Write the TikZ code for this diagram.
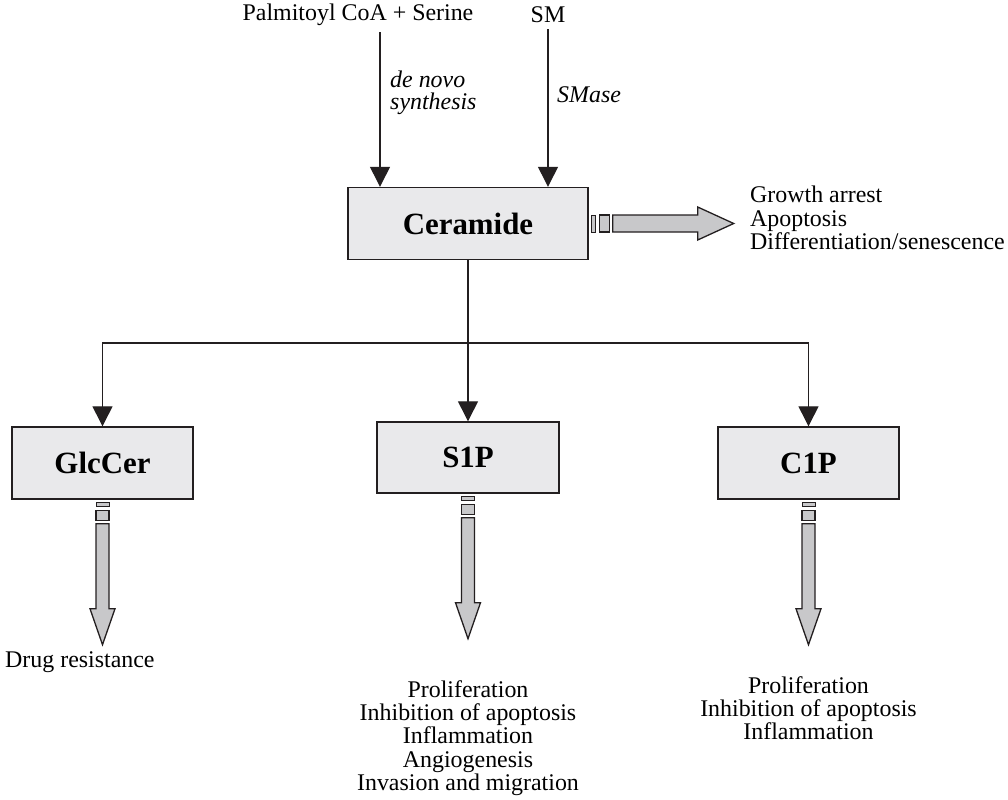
\documentclass[tikz,border=0pt]{standalone}
\usepackage{fontspec}
\setmainfont{Liberation Serif}
\usetikzlibrary{arrows.meta}

\definecolor{boxgray}{RGB}{233,233,235}
\definecolor{bargray}{RGB}{200,200,202}
\definecolor{ink}{RGB}{35,31,32}

\tikzset{
  lipid/.style={draw=ink,line width=1.4bp,fill=boxgray,minimum height=72bp,
    inner sep=0pt,font=\fontsize{31}{31}\selectfont\bfseries},
  conn/.style={draw=ink,line width=1.3bp,-{Triangle[width=20bp,length=20bp]}},
  effect/.style={align=center,inner sep=0pt,font=\fontsize{24}{23.5}\selectfont},
  enzyme/.style={anchor=west,align=left,inner sep=0pt,
    font=\fontsize{24}{22}\selectfont\itshape},
  fat/.style={draw=ink,line width=1.3bp,fill=bargray}
}

\begin{document}
\begin{tikzpicture}[x=1bp,y=-1bp]
  \useasboundingbox (0,0) rectangle (1008,800);
  % boxes
  \node[lipid,minimum width=240bp] (cer) at (468,223.5) {Ceramide};
  \node[lipid,minimum width=181bp] (glc) at (102.5,463) {GlcCer};
  \node[lipid,minimum width=182bp,minimum height=71bp] (s1p) at (468,457.5) {S1P};
  \node[lipid,minimum width=181bp] (c1p) at (808.5,463) {C1P};
  % sources
  \node[effect] (palm) at (358,15) {Palmitoyl CoA + Serine};
  \node[effect] (sm) at (548,15) {SM};
  \draw[conn] ([xshift=22bp,yshift=-6bp]palm.south) -- ([xshift=22bp]palm.south |- cer.north);
  \draw[conn] ([yshift=-6bp]sm.south) -- (sm.south |- cer.north);
  \node[enzyme] (dn) at (390,93) {de novo\\synthesis};
  \node[enzyme] (sma) at (557,95) {SMase};
  % branches
  \coordinate (split) at (cer.south |- 0,343);
  \draw[draw=ink,line width=1.3bp] (cer.south) -- (split);
  \draw[conn] (split) -| (glc.north);
  \draw[conn] (split) -- (s1p.north);
  \draw[conn] (split) -| (c1p.north);
  % block arrows
  \foreach \n/\a/\r/\bw/\hw in {cer/east/90/8.5/16.5, glc/south/0/6.5/12.5,
      s1p/south/0/6.5/12.5, c1p/south/0/6.5/12.5}{
    \begin{scope}[shift={(\n.\a)},rotate=\r]
      \draw[fat,line width=1bp] (-\bw,3) rectangle (\bw,7);
      \draw[fat] (-\bw,11) rectangle (\bw,21);
      \draw[fat] (-\bw,24) -- (-\bw,109) -- (-\hw,109) -- (0,145)
        -- (\hw,109) -- (\bw,109) -- (\bw,24) -- cycle;
    \end{scope}
  }
  % outcomes
  \node[effect,anchor=west,align=left] (stop) at (750,218)
    {Growth arrest\\Apoptosis\\Differentiation/senescence};
  \node[effect,anchor=west] (drug) at (5,662) {Drug resistance};
  \node[effect,anchor=north] (s1pout) at (468,680)
    {Proliferation\\Inhibition of apoptosis\\Inflammation\\Angiogenesis\\Invasion and migration};
  \node[effect,anchor=north] (c1pout) at (808.5,676)
    {Proliferation\\Inhibition of apoptosis\\Inflammation};
\end{tikzpicture}
\end{document}
